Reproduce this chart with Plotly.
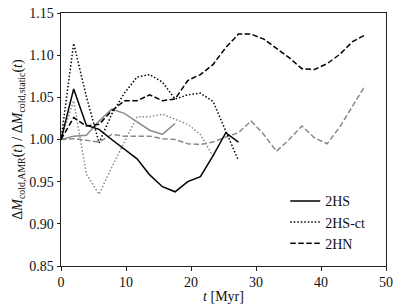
import plotly.graph_objects as go

# time samples [Myr]
t = [0.0, 1.95, 3.9, 5.85, 7.8, 9.75, 11.7, 13.65, 15.6, 17.55, 19.5, 21.45,
     23.4, 25.35, 27.3, 29.25, 31.2, 33.15, 35.1, 37.05, 39.0, 40.95, 42.9,
     44.85, 46.8]

# black (main) series
hs_black = [1.000, 1.060, 1.017, 1.012, 1.000, 0.989, 0.977, 0.958, 0.944,
            0.938, 0.950, 0.956, 0.981, 1.008, 0.997]
hsct_black = [1.000, 1.114, 1.051, 0.996, 1.030, 1.055, 1.074, 1.077, 1.068,
              1.048, 1.053, 1.055, 1.045, 1.010, 0.975]
hn_black = [1.000, 1.026, 1.016, 1.018, 1.034, 1.046, 1.046, 1.053, 1.046,
            1.048, 1.070, 1.077, 1.089, 1.109, 1.125, 1.125, 1.119, 1.108,
            1.097, 1.084, 1.083, 1.090, 1.101, 1.116, 1.124]

# gray series
hs_gray = [1.000, 1.004, 1.005, 1.022, 1.036, 1.031, 1.021, 1.011, 1.006, 1.019]
hsct_gray = [1.000, 1.046, 0.959, 0.935, 0.967, 0.998, 1.027, 1.027, 1.030,
             1.024, 1.018, 1.006, 0.980]
hn_gray = [1.000, 1.001, 0.999, 0.997, 1.006, 1.004, 1.004, 1.004, 1.001,
           1.000, 0.995, 0.994, 0.997, 1.003, 1.008, 1.022, 1.006, 0.986,
           1.000, 1.016, 1.002, 0.995, 1.015, 1.040, 1.064]

labels = ["2HS", "2HS-ct", "2HN"]
x_ticks = [0, 10, 20, 30, 40, 50]
y_ticks = [0.85, 0.90, 0.95, 1.00, 1.05, 1.10, 1.15]

BLACK = "#000000"
GRAY = "#8a8a8a"
DASH = "5.5px,2.5px"
DOT = "1.5px,2px"
FONT = "Liberation Serif"

fig = go.Figure()

# gray (no legend)
for y, dash in [(hs_gray, "solid"), (hsct_gray, DOT), (hn_gray, DASH)]:
    fig.add_trace(go.Scatter(x=t[:len(y)], y=y, mode="lines", showlegend=False,
                             line=dict(color=GRAY, width=1.5, dash=dash)))

# black with legend
for y, dash, name in [(hs_black, "solid", labels[0]),
                      (hsct_black, DOT, labels[1]),
                      (hn_black, DASH, labels[2])]:
    fig.add_trace(go.Scatter(x=t[:len(y)], y=y, mode="lines", name=name,
                             line=dict(color=BLACK, width=1.5, dash=dash)))

axis_common = dict(showline=True, linecolor="#222", linewidth=1, mirror=True,
                   ticks="outside", ticklen=3.5, tickwidth=1, tickcolor="#222",
                   showgrid=False, zeroline=False, automargin=False,
                   ticklabeloverflow="allow",
                   tickfont=dict(family=FONT, size=14, color="#111"))

fig.update_xaxes(range=[0, 50], tickvals=x_ticks,
                 title=dict(text="<i>t</i> [Myr]", font=dict(family=FONT, size=14, color="#111"),
                            standoff=1),
                 **axis_common)
fig.update_yaxes(range=[0.85, 1.15], tickvals=y_ticks, tickformat=".2f",
                 title=dict(text="Δ<i>M</i><sub>cold,AMR</sub>(<i>t</i>) / Δ<i>M</i><sub>cold,static</sub>(<i>t</i>)",
                            font=dict(family=FONT, size=14, color="#111"), standoff=3),
                 **axis_common)

# the page body adds an 8px offset; size the figure so the plot area lands
# at x 61..386, y 13..266 of the 407x305 window
fig.update_layout(
    width=399, height=297,
    margin=dict(l=53, r=21, t=5, b=39),
    plot_bgcolor="white", paper_bgcolor="white",
    legend=dict(x=0.69, y=0.319, xanchor="left", yanchor="top",
                bgcolor="rgba(255,255,255,0)",
                font=dict(family=FONT, size=14, color="#111"),
                tracegroupgap=0),
)

fig.write_html("out.html")
